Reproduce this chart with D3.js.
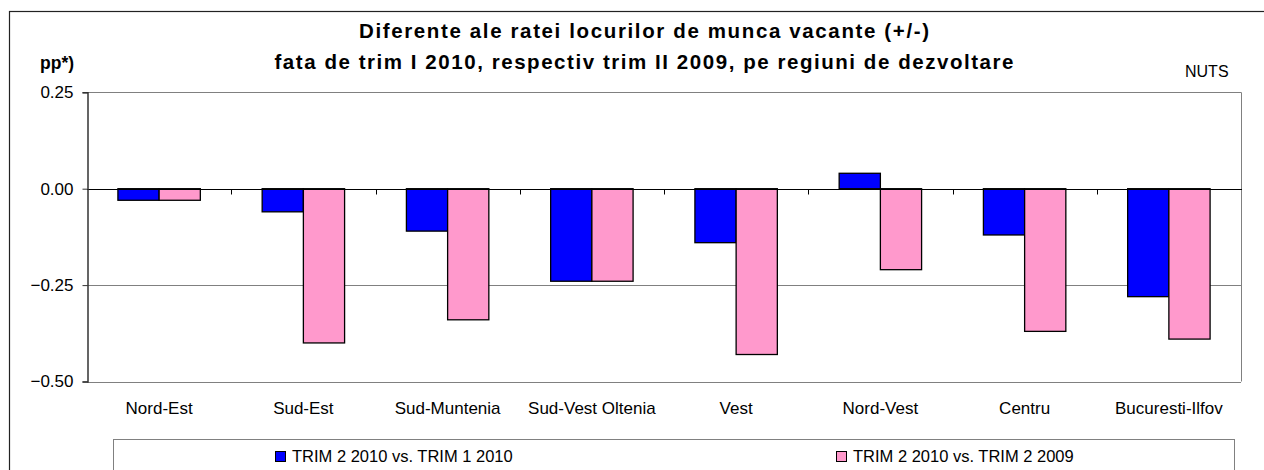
<!DOCTYPE html>
<html>
<head>
<meta charset="utf-8">
<script src="https://cdn.jsdelivr.net/npm/d3@7"></script>
<style>
  body { margin: 0; background: #fff; }
  svg { display: block; font-family: "Liberation Sans", Arial, sans-serif; }
</style>
</head>
<body>
<div id="chart"></div>
<script>
// regions and values (pp)
var regions = ["Nord-Est", "Sud-Est", "Sud-Muntenia", "Sud-Vest Oltenia", "Vest", "Nord-Vest", "Centru", "Bucuresti-Ilfov"];
var seriesNames = ["TRIM 2 2010 vs. TRIM 1 2010", "TRIM 2 2010 vs. TRIM 2 2009"];
var vsTrim1 = [-0.03, -0.06, -0.11, -0.24, -0.14, 0.04, -0.12, -0.28];
var vsTrim2009 = [-0.03, -0.40, -0.34, -0.24, -0.43, -0.21, -0.37, -0.39];
var yTicks = [0.25, 0, -0.25, -0.5];
var titleLines = ["Diferente ale ratei locurilor de munca vacante (+/-)",
                  "fata de trim I 2010, respectiv trim II 2009, pe regiuni de dezvoltare"];

var W = 1264, H = 470;
var colors = ["#0000ff", "#ff99cc"];
var plot = {left: 87, right: 1241, top: 92.3, bottom: 381.5};

var svg = d3.select("#chart").append("svg")
            .attr("width", W)
            .attr("height", H);

// outer chart frame (runs off to the right and bottom)
svg.append("rect")
   .attr("x", 9.5).attr("y", 11.5)
   .attr("width", W + 20).attr("height", H + 20)
   .attr("fill", "none")
   .attr("stroke", "#222")
   .attr("stroke-width", 1.2);

var x0 = d3.scaleBand()
           .domain(regions)
           .range([plot.left, plot.right])
           .padding(0);

var x1 = d3.scaleBand()
           .domain(seriesNames)
           .range([0, x0.bandwidth()])
           .paddingInner(0)
           .paddingOuter(0.75);

var y = d3.scaleLinear()
          .domain([-0.5, 0.25])
          .range([plot.bottom, plot.top]);

// gridlines
svg.append("g")
   .selectAll("line")
   .data(yTicks.filter(function(d){ return d !== 0; }))
   .enter().append("line")
   .attr("x1", plot.left).attr("x2", plot.right)
   .attr("y1", function(d){ return Math.round(y(d)) + 0.5; })
   .attr("y2", function(d){ return Math.round(y(d)) + 0.5; })
   .attr("stroke", "#808080")
   .attr("stroke-width", 1);

// right border of plot area
svg.append("line")
   .attr("x1", plot.right + 0.5).attr("x2", plot.right + 0.5)
   .attr("y1", y(0.25)).attr("y2", y(-0.5))
   .attr("stroke", "#808080");

// bars
var data = regions.map(function(r, i){
	return {region: r, values: [vsTrim1[i], vsTrim2009[i]]};
});

var groups = svg.append("g")
   .selectAll("g")
   .data(data)
   .enter().append("g")
   .attr("transform", function(d){ return "translate(" + x0(d.region) + ",0)"; });

groups.selectAll("rect")
   .data(function(d){ return d.values.map(function(v, j){ return {name: seriesNames[j], value: v, j: j}; }); })
   .enter().append("rect")
   .attr("x", function(d){ return x1(d.name); })
   .attr("width", x1.bandwidth())
   .attr("y", function(d){ return y(Math.max(0, d.value)); })
   .attr("height", function(d){ return Math.abs(y(d.value) - y(0)); })
   .attr("fill", function(d){ return colors[d.j]; })
   .attr("stroke", "#000")
   .attr("stroke-width", 1.3);

// zero line with category ticks
var zeroY = Math.round(y(0)) + 0.5;
svg.append("line")
   .attr("x1", plot.left).attr("x2", plot.right + 1)
   .attr("y1", zeroY).attr("y2", zeroY)
   .attr("stroke", "#000");

svg.append("g")
   .selectAll("line")
   .data(regions.slice(1))
   .enter().append("line")
   .attr("x1", function(d){ return Math.round(x0(d)) + 0.5; })
   .attr("x2", function(d){ return Math.round(x0(d)) + 0.5; })
   .attr("y1", zeroY).attr("y2", zeroY + 5)
   .attr("stroke", "#000");

// category labels
svg.append("g")
   .selectAll("text")
   .data(regions)
   .enter().append("text")
   .attr("x", function(d){ return x0(d) + x0.bandwidth() / 2; })
   .attr("y", 413.5)
   .attr("text-anchor", "middle")
   .attr("font-size", 17)
   .text(function(d){ return d; });

// y axis
var yAxis = d3.axisLeft(y)
              .tickValues(yTicks)
              .tickSize(5)
              .tickPadding(9)
              .tickFormat(d3.format(".2f"));

var ga = svg.append("g")
   .attr("transform", "translate(" + (plot.left + 0.5) + ",0)")
   .call(yAxis);
ga.select(".domain").attr("stroke", "#333").attr("stroke-width", 1.5);
ga.selectAll(".tick line").attr("stroke", "#333");
ga.selectAll(".tick text")
  .attr("font-size", 17)
  .attr("font-family", "Liberation Sans, Arial, sans-serif")
  .attr("fill", "#000");

// unit labels
svg.append("text")
   .attr("x", 40).attr("y", 69)
   .attr("font-size", 17.5)
   .attr("font-weight", "bold")
   .text("pp*)");

svg.append("text")
   .attr("x", 1185).attr("y", 77)
   .attr("font-size", 16)
   .text("NUTS");

// title
var titleWidths = [570, 739];
svg.append("g")
   .selectAll("text")
   .data(titleLines)
   .enter().append("text")
   .attr("x", 644)
   .attr("y", function(d, i){ return 38 + i * 30.5; })
   .attr("text-anchor", "middle")
   .attr("font-size", 20.5)
   .attr("font-weight", "bold")
   .attr("textLength", function(d, i){ return titleWidths[i]; })
   .attr("lengthAdjust", "spacing")
   .text(function(d){ return d; });

// legend
svg.append("rect")
   .attr("x", 113.5).attr("y", 439.5)
   .attr("width", 1121).attr("height", 60)
   .attr("fill", "#fff")
   .attr("stroke", "#808080");

var legendX = [275, 836];
var legend = svg.append("g")
   .selectAll("g")
   .data(seriesNames)
   .enter().append("g")
   .attr("transform", function(d, i){ return "translate(" + legendX[i] + ",451)"; });

legend.append("rect")
   .attr("x", 0.5).attr("y", 0.5)
   .attr("width", 10).attr("height", 10)
   .attr("fill", function(d, i){ return colors[i]; })
   .attr("stroke", "#000")
   .attr("stroke-width", 1);

legend.append("text")
   .attr("x", 17).attr("y", 11)
   .attr("font-size", 16.5)
   .text(function(d){ return d; });
</script>
</body>
</html>
